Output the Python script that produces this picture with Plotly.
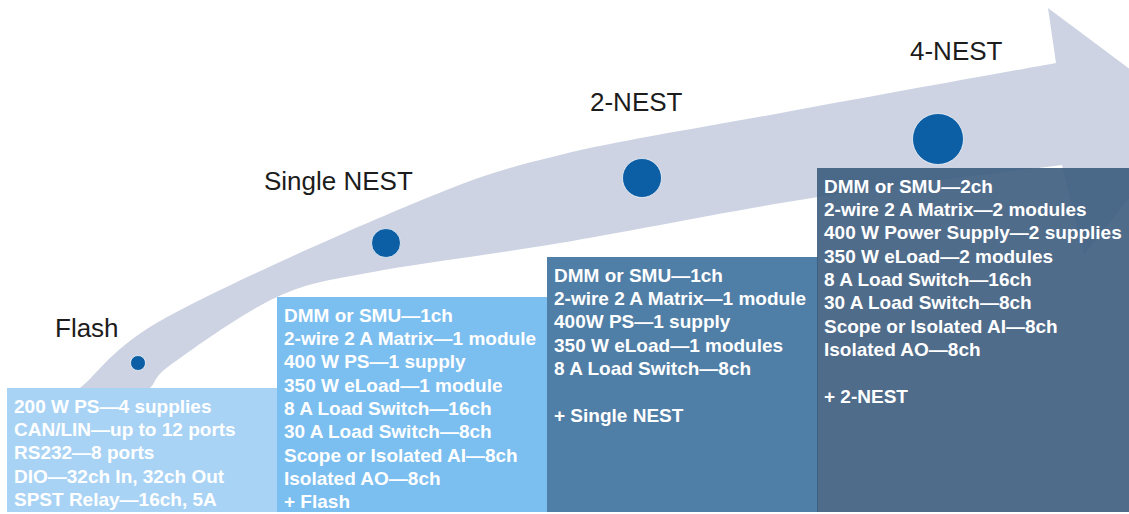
import plotly.graph_objects as go

# Configuration tiers, left to right
stages = ["Flash", "Single NEST", "2-NEST", "4-NEST"]

features = [
    ["200 W PS—4 supplies",
     "CAN/LIN—up to 12 ports",
     "RS232—8 ports",
     "DIO—32ch In, 32ch Out",
     "SPST Relay—16ch, 5A"],
    ["DMM or SMU—1ch",
     "2-wire 2 A Matrix—1 module",
     "400 W PS—1 supply",
     "350 W eLoad—1 module",
     "8 A Load Switch—16ch",
     "30 A Load Switch—8ch",
     "Scope or Isolated AI—8ch",
     "Isolated AO—8ch",
     "+ Flash"],
    ["DMM or SMU—1ch",
     "2-wire 2 A Matrix—1 module",
     "400W PS—1 supply",
     "350 W eLoad—1 modules",
     "8 A Load Switch—8ch",
     "",
     "+ Single NEST"],
    ["DMM or SMU—2ch",
     "2-wire 2 A Matrix—2 modules",
     "400 W Power Supply—2 supplies",
     "350 W eLoad—2 modules",
     "8 A Load Switch—16ch",
     "30 A Load Switch—8ch",
     "Scope or Isolated AI—8ch",
     "Isolated AO—8ch",
     "",
     "+ 2-NEST"],
]

# Step heights of the tier blocks and the relative size of each tier marker
tier_level = [124, 215, 255, 344]
tier_marker = [15, 29, 39, 51]

# Layout helpers (chart units: x left->right, y bottom->top)
W, H = 1129, 514
tier_left = [7, 277, 547, 817]
tier_width = [273, 272, 271, 312]
tier_fill = ["#A9D3F5", "#7BBEF0", "#4F7EA6", "rgba(60,92,126,0.90)"]
marker_xy = [(138, 149), (386, 269), (642, 334), (938, 373)]
label_xy = [(87, 184), (338, 331), (636, 410), (956, 461)]

TEXT_FONT = "Liberation Sans, Arial, sans-serif"
LINE_STEP = 23.35
FIRST_LINE = 18


def catmull_rom(points):
    """Smooth SVG cubic path through the given points."""
    pts = [points[0]] + list(points) + [points[-1]]
    segs = []
    for i in range(1, len(pts) - 2):
        p0, p1, p2, p3 = pts[i - 1], pts[i], pts[i + 1], pts[i + 2]
        c1 = (p1[0] + (p2[0] - p0[0]) / 6, p1[1] + (p2[1] - p0[1]) / 6)
        c2 = (p2[0] - (p3[0] - p1[0]) / 6, p2[1] - (p3[1] - p1[1]) / 6)
        segs.append(f"C {c1[0]:.1f},{c1[1]:.1f} {c2[0]:.1f},{c2[1]:.1f} {p2[0]:.1f},{p2[1]:.1f}")
    return " ".join(segs)


# Curved growth arrow behind everything
upper_edge = [(54, 107), (80, 124), (167, 195), (417, 310), (560, 357), (781, 399), (1056, 449)]
lower_edge = [(1062, 347), (818, 315), (560, 269), (373, 240), (277, 215), (173, 149), (150, 124), (128, 107)]
head = [(1048, 504), (1194, 395), (1084, 257)]

path = f"M {upper_edge[0][0]},{upper_edge[0][1]} " + catmull_rom(upper_edge)
path += " " + " ".join(f"L {x},{y}" for x, y in head)
path += f" L {lower_edge[0][0]},{lower_edge[0][1]} " + catmull_rom(lower_edge) + " Z"

fig = go.Figure()

fig.add_shape(type="path", path=path, xref="x", yref="y",
              fillcolor="#CDD3E2", line=dict(width=0), layer="below")

# Tier blocks
fig.add_trace(go.Bar(
    x=tier_left, y=tier_level, width=tier_width, offset=0, base=0,
    marker=dict(color=tier_fill, line=dict(width=0)),
    hoverinfo="skip",
))

# Tier markers along the arrow
fig.add_trace(go.Scatter(
    x=[p[0] for p in marker_xy], y=[p[1] for p in marker_xy],
    mode="markers",
    marker=dict(size=tier_marker, color="#0D5FA5", opacity=1,
                line=dict(width=1, color="rgba(255,255,255,0.7)")),
    hoverinfo="skip",
))

annotations = []
for name, (lx, ly) in zip(stages, label_xy):
    annotations.append(dict(
        x=lx, y=ly, text=name, showarrow=False, xanchor="center", yanchor="middle",
        font=dict(family=TEXT_FONT, size=26, color="#1C1C1C"),
    ))

for lines, left, top in zip(features, tier_left, tier_level):
    for k, line in enumerate(lines):
        if not line:
            continue
        annotations.append(dict(
            x=left + 5, y=top - FIRST_LINE - k * LINE_STEP, text=line,
            showarrow=False, xanchor="left", yanchor="middle",
            font=dict(family=TEXT_FONT, size=19, color="#FFFFFF", weight="bold"),
        ))

fig.update_layout(
    width=W, height=H,
    margin=dict(l=0, r=0, t=0, b=0),
    paper_bgcolor="white", plot_bgcolor="white",
    showlegend=False,
    xaxis=dict(range=[0, W], visible=False, fixedrange=True),
    yaxis=dict(range=[-2, H - 2], visible=False, fixedrange=True),
    annotations=annotations,
)

fig.write_html("out.html")
